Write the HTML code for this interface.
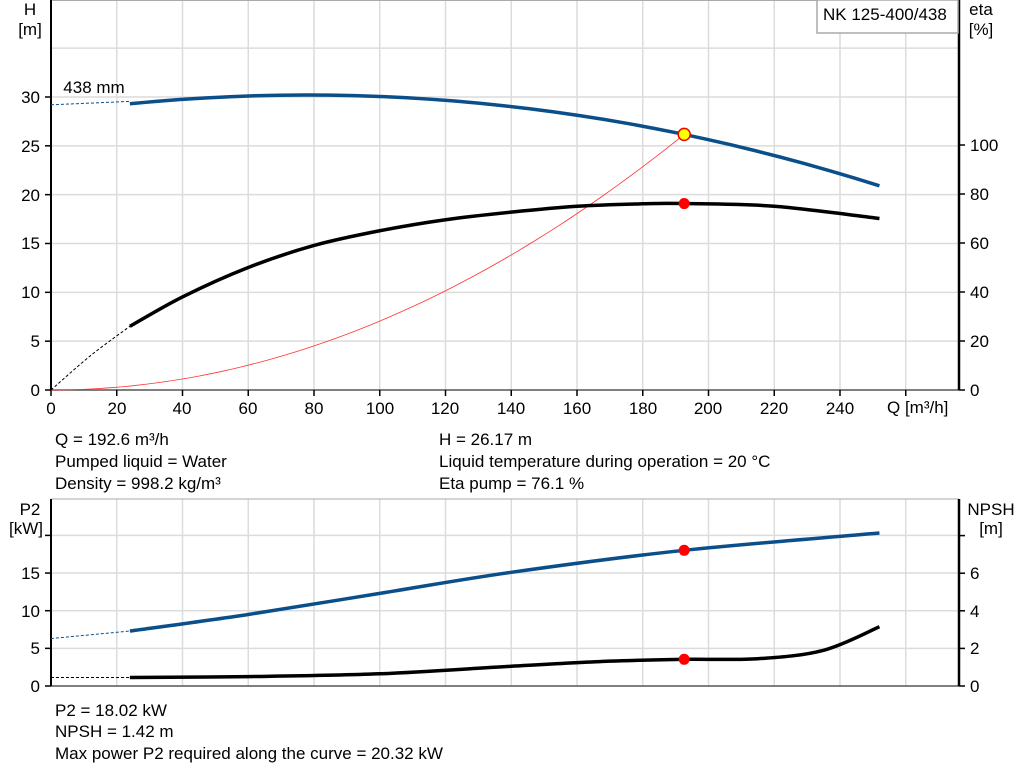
<!DOCTYPE html>
<html><head><meta charset="utf-8"><style>
body{margin:0;background:#fff;}
svg{display:block;font-family:"Liberation Sans",Arial,sans-serif;}
text{font-size:17px;fill:#000;}
</style></head><body>
<svg id="s" width="1024" height="781" xmlns="http://www.w3.org/2000/svg">
<g id="grid" stroke="#dcdcdc" stroke-width="1.5"></g>
<line x1="51" y1="0.5" x2="959" y2="0.5" stroke="#aaa"/>
<line x1="51" y1="390" x2="959" y2="390" stroke="#555" stroke-width="1.5"/>
<line x1="51" y1="0" x2="51" y2="390" stroke="#000" stroke-width="2"/>
<line x1="959" y1="0" x2="959" y2="390" stroke="#000" stroke-width="2.5"/>
<line x1="51" y1="499" x2="959" y2="499" stroke="#aaa"/>
<line x1="51" y1="686" x2="959" y2="686" stroke="#555" stroke-width="1.5"/>
<line x1="51" y1="499" x2="51" y2="686" stroke="#000" stroke-width="2"/>
<line x1="959" y1="499" x2="959" y2="686" stroke="#000" stroke-width="2.5"/>
<g id="ticks" stroke="#000" stroke-width="1.5"></g>
<g id="curves" fill="none"></g>
<rect x="817" y="0" width="141" height="33" fill="#fff" stroke="#aaa" stroke-width="1.5"/>
<text x="823" y="20">NK 125-400/438</text>
<text x="30" y="15" text-anchor="middle">H</text>
<text x="30" y="35" text-anchor="middle">[m]</text>
<text x="981" y="15" text-anchor="middle">eta</text>
<text x="981" y="35" text-anchor="middle">[%]</text>
<text x="94" y="93" text-anchor="middle">438 mm</text>
<text x="30" y="515" text-anchor="middle">P2</text>
<text x="26" y="534" text-anchor="middle">[kW]</text>
<text x="991" y="515" text-anchor="middle">NPSH</text>
<text x="991" y="534" text-anchor="middle">[m]</text>
<text x="887" y="413">Q [m³/h]</text>
<text x="55" y="445">Q = 192.6 m³/h</text>
<text x="55" y="467">Pumped liquid = Water</text>
<text x="55" y="489">Density = 998.2 kg/m³</text>
<text x="439" y="445">H = 26.17 m</text>
<text x="439" y="467">Liquid temperature during operation = 20 °C</text>
<text x="439" y="489">Eta pump = 76.1 %</text>
<text x="55" y="716">P2 = 18.02 kW</text>
<text x="55" y="737">NPSH = 1.42 m</text>
<text x="55" y="759">Max power P2 required along the curve = 20.32 kW</text>
<g text-anchor="middle">
<text x="51" y="414">0</text><text x="117" y="414">20</text><text x="182" y="414">40</text><text x="248" y="414">60</text><text x="314" y="414">80</text><text x="380" y="414">100</text><text x="445" y="414">120</text><text x="511" y="414">140</text><text x="577" y="414">160</text><text x="643" y="414">180</text><text x="708" y="414">200</text><text x="774" y="414">220</text><text x="840" y="414">240</text>
</g>
<g text-anchor="end">
<text x="40" y="396">0</text><text x="40" y="347">5</text><text x="40" y="298">10</text><text x="40" y="249">15</text><text x="40" y="201">20</text><text x="40" y="152">25</text><text x="40" y="103">30</text>
<text x="40" y="692">0</text><text x="40" y="654">5</text><text x="40" y="617">10</text><text x="40" y="579">15</text>
</g>
<g>
<text x="970" y="396">0</text><text x="970" y="347">20</text><text x="970" y="298">40</text><text x="970" y="249">60</text><text x="970" y="200">80</text><text x="970" y="151">100</text>
<text x="970" y="692">0</text><text x="970" y="654">2</text><text x="970" y="617">4</text><text x="970" y="579">6</text>
</g>
<g id="marks"></g>
</svg>
<script>
var NS="http://www.w3.org/2000/svg";
function el(p,t,a){var e=document.createElementNS(NS,t);for(var k in a)e.setAttribute(k,a[k]);document.getElementById(p).appendChild(e);return e;}
function X(q){return 51+q*3.2875;}
function YH(h){return 390-h*9.767;}
function YE(e){return 390-e*2.45;}
function YP(p){return 686-p*7.53;}
function YN(n){return 686-n*18.8;}
for(var q=20;q<=260;q+=20){el('grid','line',{x1:X(q),y1:0,x2:X(q),y2:390});el('grid','line',{x1:X(q),y1:499,x2:X(q),y2:686});}
for(var h=5;h<=35;h+=5)el('grid','line',{x1:51,y1:YH(h),x2:959,y2:YH(h)});
for(var p=5;p<=20;p+=5)el('grid','line',{x1:51,y1:YP(p),x2:959,y2:YP(p)});
for(var q=0;q<=260;q+=20)el('ticks','line',{x1:X(q),y1:390,x2:X(q),y2:396});
for(var h=0;h<=30;h+=5)el('ticks','line',{x1:45,y1:YH(h),x2:51,y2:YH(h)});
for(var e=0;e<=100;e+=20)el('ticks','line',{x1:959,y1:YE(e),x2:965,y2:YE(e)});
for(var p=0;p<=20;p+=5)el('ticks','line',{x1:45,y1:YP(p),x2:51,y2:YP(p)});
for(var n=0;n<=8;n+=2)el('ticks','line',{x1:959,y1:YN(n),x2:965,y2:YN(n)});
function cr(pts){var d="M"+pts[0][0]+","+pts[0][1];for(var i=0;i<pts.length-1;i++){var p0=pts[i-1]||pts[i],p1=pts[i],p2=pts[i+1],p3=pts[i+2]||p2;
d+=" C"+(p1[0]+(p2[0]-p0[0])/6)+","+(p1[1]+(p2[1]-p0[1])/6)+" "+(p2[0]-(p3[0]-p1[0])/6)+","+(p2[1]-(p3[1]-p1[1])/6)+" "+p2[0]+","+p2[1];}return d;}
function path(pts,st){var a={d:cr(pts)};for(var k in st)a[k]=st[k];el('curves','path',a);}
function fpts(f,a,b,fx,fy){var r=[];for(var i=0;i<=30;i++){var q=a+(b-a)*i/30;r.push([fx(q),fy(f(q))]);}return r;}
var blue="#0b4f8a";
var Hf=function(q){return 30.2-3.07e-4*(q-78)*(q-78);};
path([[X(0),YH(29.2)],[X(24),YH(29.55)]],{stroke:blue,'stroke-width':1,'stroke-dasharray':'3,2'});
path(fpts(Hf,24,252,X,YH),{stroke:blue,'stroke-width':3.5});
path(fpts(function(q){return 26.17*Math.pow(q/192.6,2);},0,192.6,X,YH),{stroke:"#f33",'stroke-width':0.8});
var ep=[[24,26],[40,38],[60,50],[80,59],[100,65],[120,69.5],[140,72.6],[160,75],[180,76],[192.6,76.1],[220,75],[252,70]];
path([[X(0),YE(0)],[X(12),YE(14)],[X(24),YE(26)]],{stroke:"#000",'stroke-width':1,'stroke-dasharray':'3,2'});
path(ep.map(function(a){return [X(a[0]),YE(a[1])];}),{stroke:"#000",'stroke-width':3.5});
var pp=[[24,7.3],[60,9.5],[100,12.3],[140,15.1],[192.6,18.02],[252,20.32]];
path([[X(0),YP(6.3)],[X(24),YP(7.3)]],{stroke:blue,'stroke-width':1,'stroke-dasharray':'3,2'});
path(pp.map(function(a){return [X(a[0]),YP(a[1])];}),{stroke:blue,'stroke-width':3.5});
var np=[[24,0.45],[60,0.5],[100,0.65],[140,1.05],[170,1.32],[192.6,1.42],[215,1.45],[235,1.9],[252,3.15]];
path([[X(0),YN(0.45)],[X(24),YN(0.45)]],{stroke:"#000",'stroke-width':1,'stroke-dasharray':'3,2'});
path(np.map(function(a){return [X(a[0]),YN(a[1])];}),{stroke:"#000",'stroke-width':3.5});
el('marks','circle',{cx:X(192.6),cy:YH(26.17),r:6,fill:"#ff0",stroke:"#e00",'stroke-width':1.5});
el('marks','circle',{cx:X(192.6),cy:YE(76.1),r:5.5,fill:"#f00"});
el('marks','circle',{cx:X(192.6),cy:YP(18.02),r:5.5,fill:"#f00"});
el('marks','circle',{cx:X(192.6),cy:YN(1.42),r:5.5,fill:"#f00"});
</script>
</body></html>
